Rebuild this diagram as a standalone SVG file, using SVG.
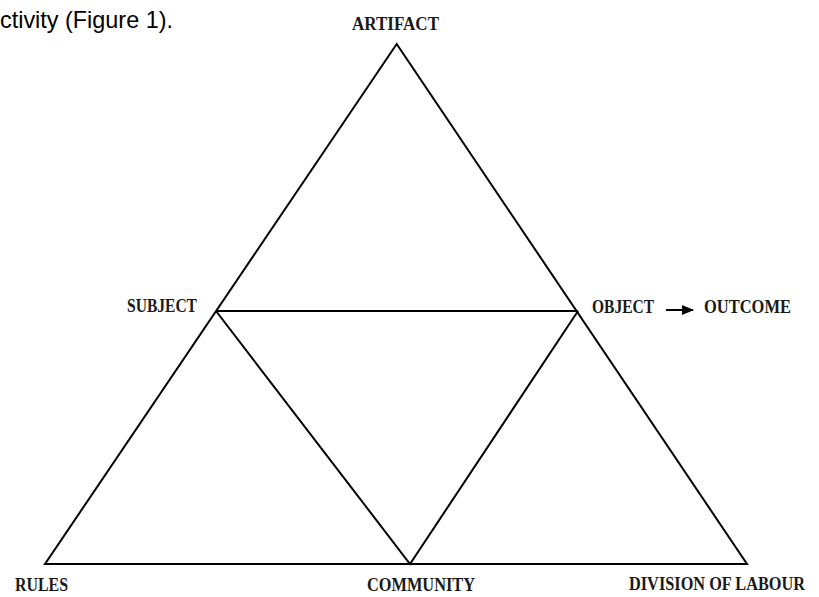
<svg xmlns="http://www.w3.org/2000/svg" width="819" height="597" viewBox="0 0 819 597">
<defs>
<style>
.lbl{font-family:"Liberation Serif","Times New Roman",serif;font-weight:bold;font-size:18px;fill:#1a1a1a}
.edge{stroke:#000;stroke-width:2;fill:none;stroke-linejoin:miter}
.cap{font-family:"Liberation Sans",Arial,sans-serif;font-size:24px;fill:#000}
</style>
<marker id="ah" markerWidth="12" markerHeight="10" refX="11" refY="5" orient="auto" markerUnits="userSpaceOnUse">
<path d="M0,0 L12,5 L0,10 Z" fill="#000"/>
</marker>
</defs>
<rect width="819" height="597" fill="#fff"/>
<text class="cap" x="0" y="28" textLength="173" lengthAdjust="spacingAndGlyphs">ctivity (Figure 1).</text>
<g id="connectors">
<path class="edge" d="M396.7,44 L45,564 L747,564 Z"/>
<path class="edge" d="M216,311 L578,311"/>
<path class="edge" d="M216,311 L410,564 L578,311"/>
<line x1="666" y1="310" x2="693" y2="310" stroke="#000" stroke-width="2" marker-end="url(#ah)"/>
</g>
<g id="artifact"><text class="lbl" x="352" y="30" textLength="87" lengthAdjust="spacingAndGlyphs">ARTIFACT</text></g>
<g id="subject"><text class="lbl" x="127" y="312" textLength="70" lengthAdjust="spacingAndGlyphs">SUBJECT</text></g>
<g id="object"><text class="lbl" x="592" y="313" textLength="62" lengthAdjust="spacingAndGlyphs">OBJECT</text></g>
<g id="outcome"><text class="lbl" x="704" y="313" textLength="87" lengthAdjust="spacingAndGlyphs">OUTCOME</text></g>
<g id="rules"><text class="lbl" x="15" y="591" textLength="53" lengthAdjust="spacingAndGlyphs">RULES</text></g>
<g id="community"><text class="lbl" x="367" y="591" textLength="108" lengthAdjust="spacingAndGlyphs">COMMUNITY</text></g>
<g id="division"><text class="lbl" x="629" y="590" font-size="16" textLength="176" lengthAdjust="spacingAndGlyphs">DIVISION OF LABOUR</text></g>
</svg>
